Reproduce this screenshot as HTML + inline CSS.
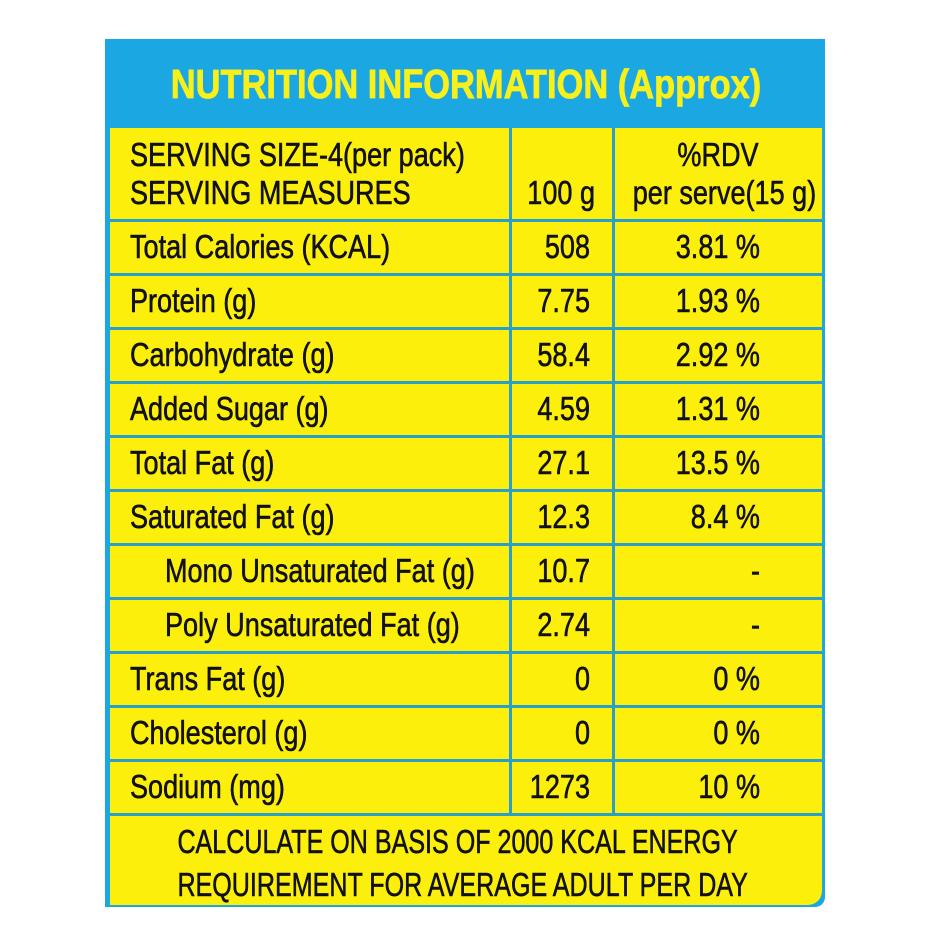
<!DOCTYPE html>
<html><head><style>
body{margin:0;background:#fff;width:940px;height:940px;position:relative;overflow:hidden;font-family:"Liberation Sans Narrow","Liberation Sans",sans-serif;}
.box{position:absolute;left:105px;top:39px;width:720px;height:868px;background:#1ba7e1;border-radius:0 0 10px 0;}
.tbl{position:absolute;left:110px;top:128px;width:712px;height:777px;background:#fdef0c;border-radius:0 0 14px 0;}
.h{position:absolute;background:#2a9fc8;height:3px;left:110px;width:712px;}
.v{position:absolute;background:#2a9fc8;width:3px;}
.t{position:absolute;font-size:33px;color:#111;white-space:nowrap;line-height:40px;-webkit-text-stroke:0.6px #111;}
.l{transform:scaleX(0.82);transform-origin:left center;}
.r{transform:scaleX(0.82);transform-origin:right center;text-align:right;}
.c{transform:scaleX(0.82);transform-origin:center center;text-align:center;}
</style></head><body>
<div class="box"></div>
<div class="tbl"></div>
<div class="t c" style="left:110px;width:712px;top:60px;font-size:41px;font-weight:bold;color:#f7f01a;-webkit-text-stroke:0.8px #f7f01a;line-height:48px;transform:scaleX(0.84)">NUTRITION INFORMATION (Approx)</div>
<div class="h" style="top:219px"></div>
<div class="h" style="top:273px"></div>
<div class="h" style="top:327px"></div>
<div class="h" style="top:381px"></div>
<div class="h" style="top:435px"></div>
<div class="h" style="top:489px"></div>
<div class="h" style="top:543px"></div>
<div class="h" style="top:597px"></div>
<div class="h" style="top:651px"></div>
<div class="h" style="top:705px"></div>
<div class="h" style="top:759px"></div>
<div class="h" style="top:813px"></div>
<div class="v" style="left:509px;top:128px;height:687px"></div>
<div class="v" style="left:612px;top:128px;height:687px"></div>
<div class="t l" style="left:130px;top:136px;line-height:38px">SERVING SIZE-4(per pack)<br>SERVING MEASURES</div>
<div class="t r" style="left:440px;width:155px;top:174px;line-height:38px">100 g</div>
<div class="t c" style="left:614px;width:208px;top:136px;line-height:38px">%RDV<br>per serve(15 g)</div>
<div class="t l" style="left:130px;top:227px">Total Calories (KCAL)</div><div class="t r" style="left:440px;width:150px;top:227px">508</div><div class="t r" style="left:600px;width:160px;top:227px">3.81 %</div>
<div class="t l" style="left:130px;top:281px">Protein (g)</div><div class="t r" style="left:440px;width:150px;top:281px">7.75</div><div class="t r" style="left:600px;width:160px;top:281px">1.93 %</div>
<div class="t l" style="left:130px;top:335px">Carbohydrate (g)</div><div class="t r" style="left:440px;width:150px;top:335px">58.4</div><div class="t r" style="left:600px;width:160px;top:335px">2.92 %</div>
<div class="t l" style="left:130px;top:389px">Added Sugar (g)</div><div class="t r" style="left:440px;width:150px;top:389px">4.59</div><div class="t r" style="left:600px;width:160px;top:389px">1.31 %</div>
<div class="t l" style="left:130px;top:443px">Total Fat (g)</div><div class="t r" style="left:440px;width:150px;top:443px">27.1</div><div class="t r" style="left:600px;width:160px;top:443px">13.5 %</div>
<div class="t l" style="left:130px;top:497px">Saturated Fat (g)</div><div class="t r" style="left:440px;width:150px;top:497px">12.3</div><div class="t r" style="left:600px;width:160px;top:497px">8.4 %</div>
<div class="t l" style="left:165px;top:551px">Mono Unsaturated Fat (g)</div><div class="t r" style="left:440px;width:150px;top:551px">10.7</div><div class="t r" style="left:600px;width:160px;top:551px">-</div>
<div class="t l" style="left:165px;top:605px">Poly Unsaturated Fat (g)</div><div class="t r" style="left:440px;width:150px;top:605px">2.74</div><div class="t r" style="left:600px;width:160px;top:605px">-</div>
<div class="t l" style="left:130px;top:659px">Trans Fat (g)</div><div class="t r" style="left:440px;width:150px;top:659px">0</div><div class="t r" style="left:600px;width:160px;top:659px">0 %</div>
<div class="t l" style="left:130px;top:713px">Cholesterol (g)</div><div class="t r" style="left:440px;width:150px;top:713px">0</div><div class="t r" style="left:600px;width:160px;top:713px">0 %</div>
<div class="t l" style="left:130px;top:767px">Sodium (mg)</div><div class="t r" style="left:440px;width:150px;top:767px">1273</div><div class="t r" style="left:600px;width:160px;top:767px">10 %</div>
<div class="t c" style="left:92px;width:712px;top:820px;line-height:43px;transform:scaleX(0.76)">CALCULATE ON BASIS OF 2000 KCAL ENERGY<br>REQUIREMENT FOR AVERAGE ADULT PER DAY</div>
</body></html>
